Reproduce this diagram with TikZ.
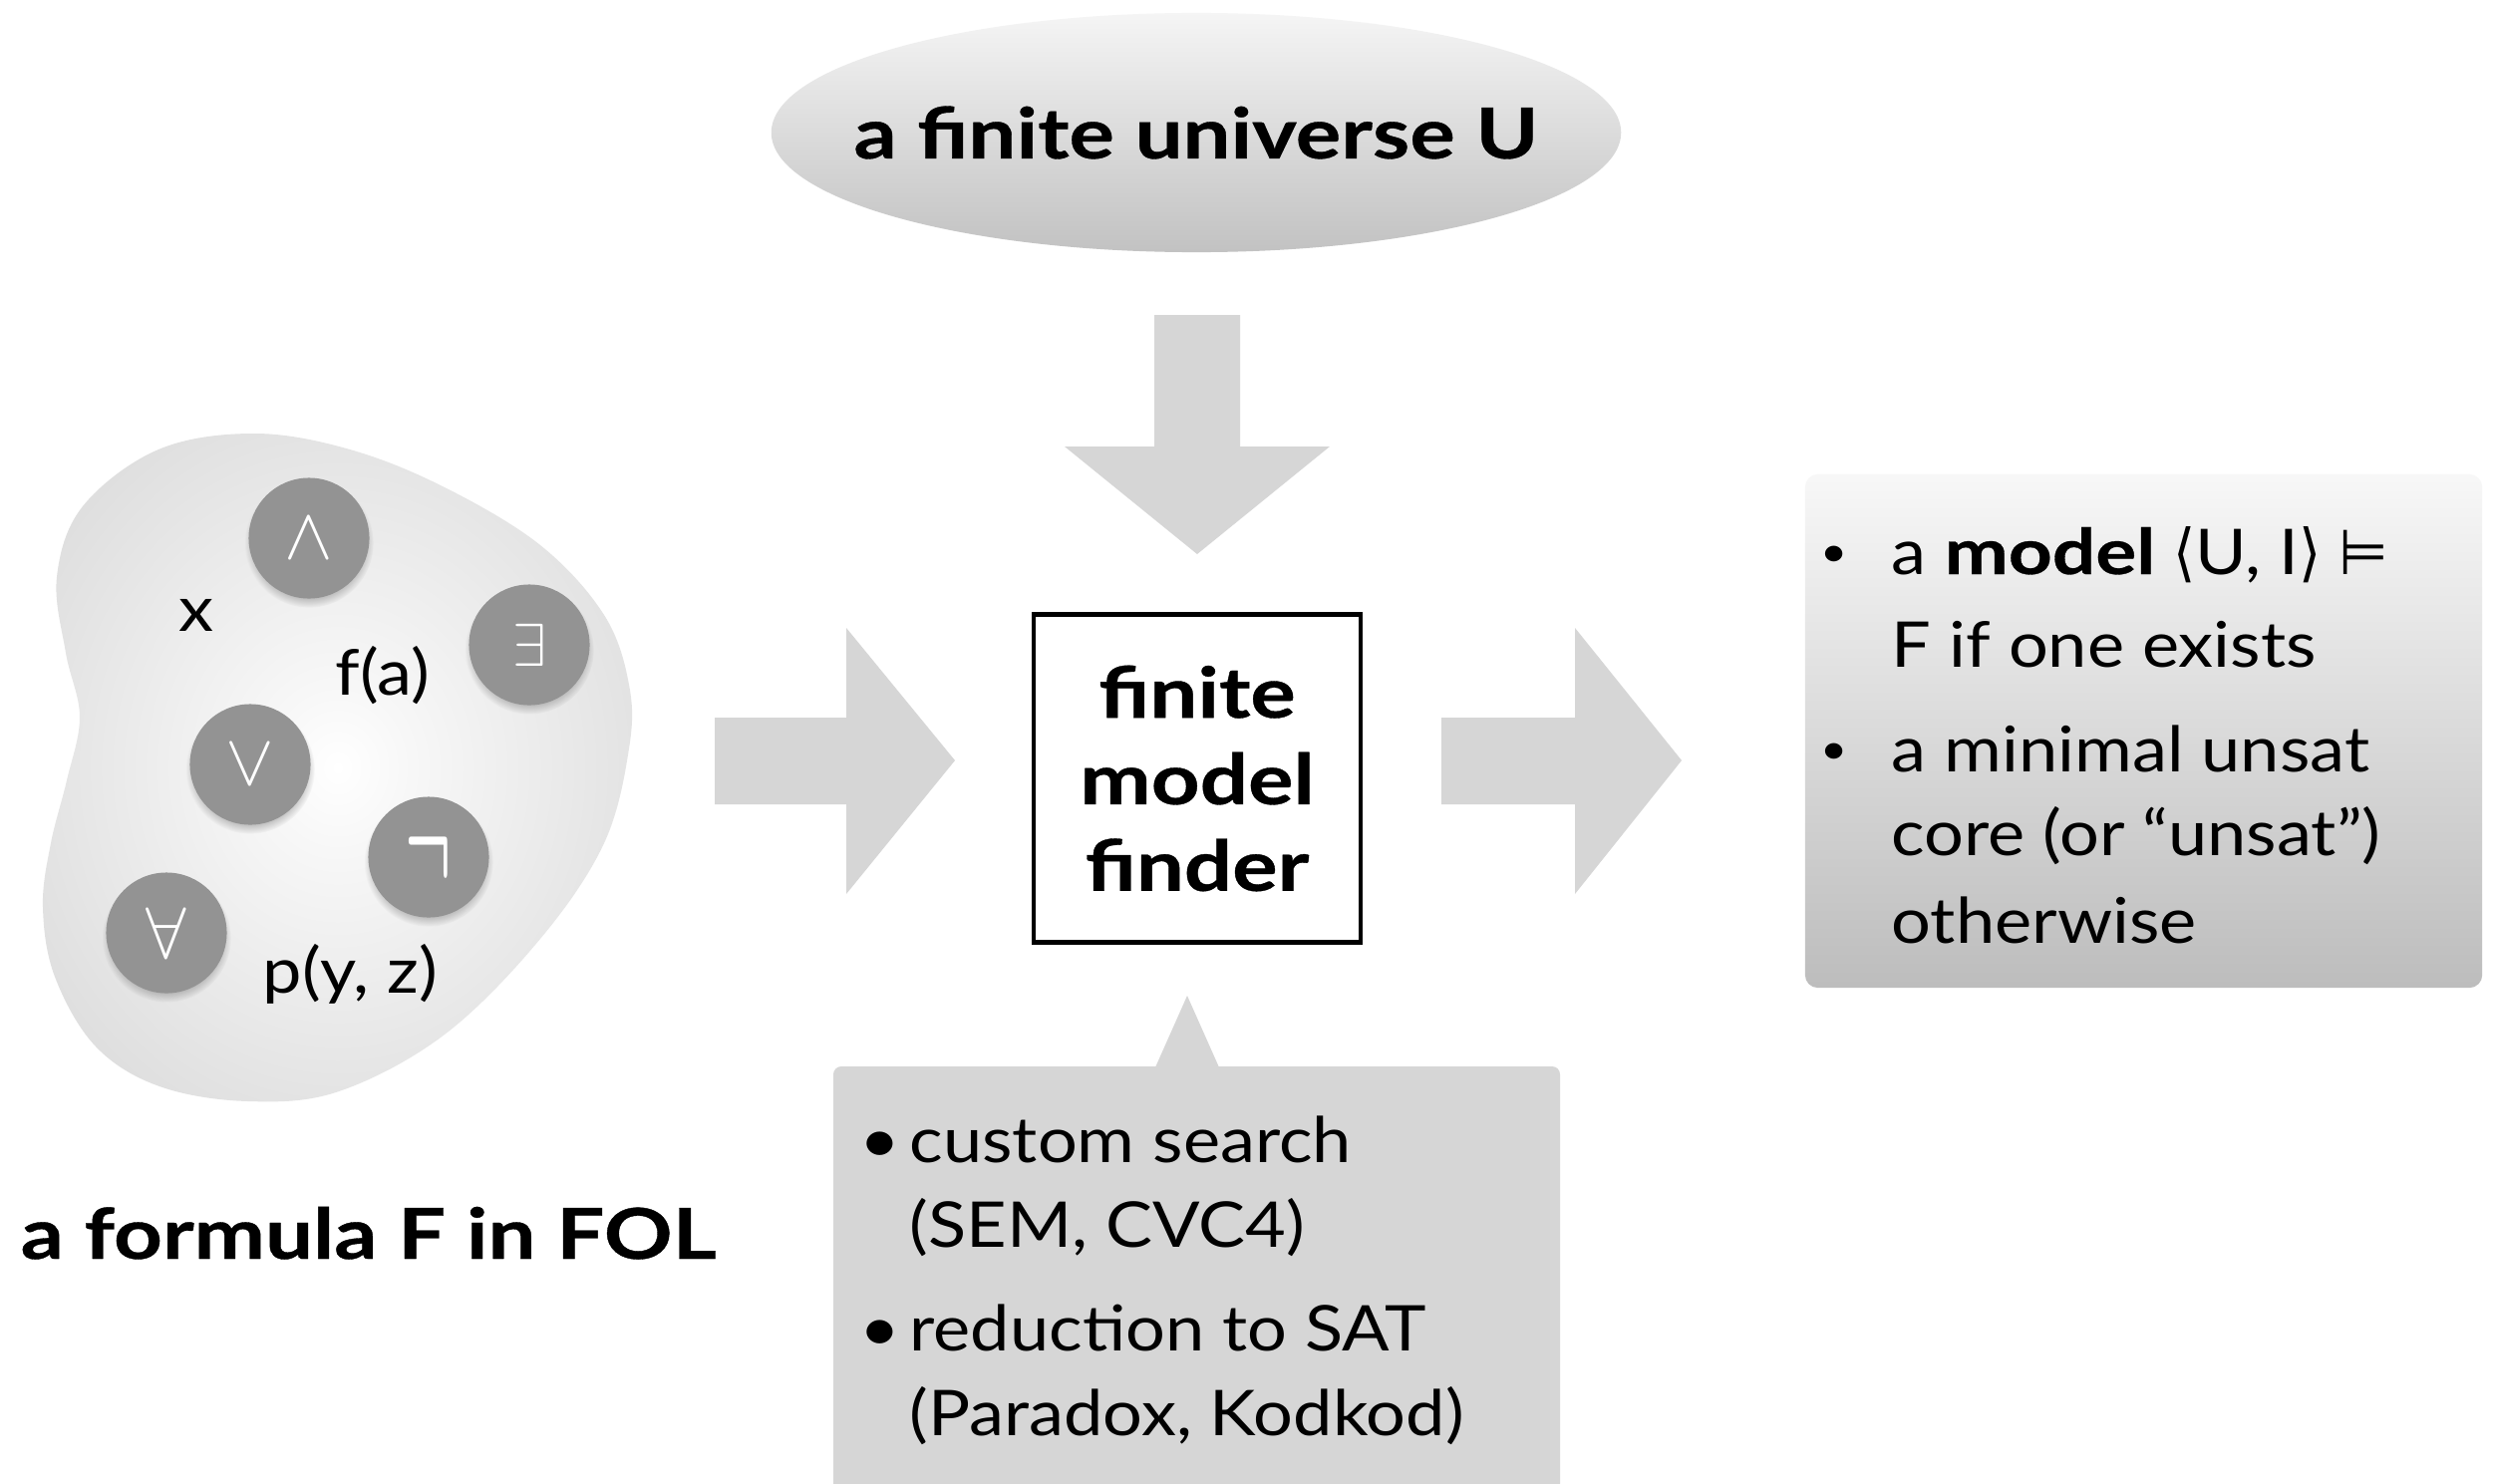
\documentclass[tikz,border=0pt]{standalone}
\usepackage{fontspec}
\usepackage{graphicx}
\setmainfont{Lato}[FakeStretch=1.11]
\newfontfamily\heavy{Lato}[FakeStretch=1.21, BoldFeatures={FakeBold=0.5}]
\newfontfamily\symf{DejaVu Sans}[FakeStretch=0.9]
\usetikzlibrary{shapes.geometric,shadows}
\definecolor{lightfill}{HTML}{D6D6D6}
\definecolor{circfill}{HTML}{939393}
\pgfdeclareradialshading{blobshade}{\pgfpoint{0bp}{0bp}}{color(0bp)=(white); color(6bp)=(white!97!black); color(42bp)=(black!18); color(50bp)=(black!19)}
\newcommand{\regsize}{\fontsize{18}{21}\selectfont}
\newcommand{\boldsize}{\fontsize{20}{24.7}\selectfont\heavy\bfseries}
\begin{document}
\begin{tikzpicture}[x=0.01cm,y=-0.01cm,
  blockarrow/.style={fill=lightfill},
  optxt/.style={circle, fill=circfill, minimum size=1.21cm, inner sep=0pt, text=white,
    circular drop shadow={shadow xshift=0pt, shadow yshift=-1.3pt, shadow scale=1.07, opacity=0.45}},
  reg/.style={anchor=base west, inner sep=0pt, font=\regsize},
  boldtxt/.style={inner sep=0pt, font=\boldsize},
]
\useasboundingbox (0,0) rectangle (2504,1488);
\fill[white] (0,0) rectangle (2504,1488);

% blob
\shade[shading=blobshade] plot[smooth cycle, tension=0.6] coordinates {(255,435) (351,451) (446,489) (542,547) (606,617) (631,687) (631,751) (606,846) (542,942) (446,1038) (340,1095) (249,1105) (160,1090) (96,1050) (55,980) (43,910) (51,846) (67,783) (80,719) (66,655) (57,579) (83,508) (159,451)};

\node[optxt, font=\fontsize{20}{22}\selectfont] (cand) at (310,540) {$\wedge$};
\node[optxt, font=\fontsize{19}{21}\selectfont] (cex) at (531,647) {$\exists$};
\node[optxt, font=\fontsize{20}{22}\selectfont] (cor) at (251,767) {$\vee$};
\node[optxt, font=\fontsize{19}{21}\selectfont] (cneg) at (430,860) {\scalebox{1}[2.2]{\boldmath$\neg$}};
\node[optxt, font=\fontsize{22}{24}\selectfont] (call) at (167,936) {$\forall$};

\node[reg] (tx) at (179,633) {x};
\node[reg] (tfa) at (336,697) {f(a)};
\node[reg] (tp) at (263,996) {p(y, z)};

\node[boldtxt, anchor=base west] (formula) at (20,1263) {a formula F in FOL};

% universe
\node[ellipse, minimum width=8.52cm, minimum height=2.40cm, inner sep=0pt,
  top color=black!4, bottom color=black!24] (universe) at (1200,133) {};
\node[boldtxt] (universetxt) at (universe.center) {a finite universe U};
\fill[blockarrow] (1158,316) -- (1244,316) -- (1244,448) -- (1334,448) -- (1201,556) -- (1068,448) -- (1158,448) -- cycle;

% finder
\node[draw, line width=1.2pt, minimum width=3.28cm, minimum height=3.29cm, inner sep=0pt,
  align=center, font=\boldsize] (finder) at (1201,781) {finite\\model\\finder};

\fill[blockarrow] (717,720) -- (849,720) -- (849,630) -- (958,763) -- (849,897) -- (849,807) -- (717,807) -- cycle;
\fill[blockarrow] (1446,720) -- (1580,720) -- (1580,630) -- (1687,763) -- (1580,897) -- (1580,807) -- (1446,807) -- cycle;

% result
\node[rounded corners=0.13cm, top color=black!3, bottom color=black!26,
  minimum width=6.79cm, minimum height=5.15cm, inner sep=0pt] (result) at (2150.5,733.5) {};
\node[reg, font=\fontsize{12}{14}\selectfont] (rb1) at (1826,568) {•};
\node[reg] (r1) at (1897,576) {a {\heavy\bfseries model} {\symf ⟨}U, I{\symf ⟩ ⊨}};
\node[reg] (r2) at (1897,669) {F if one exists};
\node[reg, font=\fontsize{12}{14}\selectfont] (rb2) at (1826,766) {•};
\node[reg] (r3) at (1897,774) {a minimal unsat};
\node[reg] (r4) at (1897,858) {core (or “unsat”)};
\node[reg] (r5) at (1897,946) {otherwise};

% callout
\fill[lightfill, rounded corners=0.08cm] (836,1070) rectangle (1565,1540);
\fill[lightfill] (1159,1071) -- (1191,999) -- (1223,1071) -- cycle;
\node[reg] (cb1) at (862,1166) {•};
\node[reg] (c1) at (912,1166) {custom search};
\node[reg] (c2) at (912,1251) {(SEM, CVC4)};
\node[reg] (cb2) at (862,1355) {•};
\node[reg] (c3) at (912,1355) {reduction to SAT};
\node[reg] (c4) at (912,1440) {(Paradox, Kodkod)};
\end{tikzpicture}
\end{document}
